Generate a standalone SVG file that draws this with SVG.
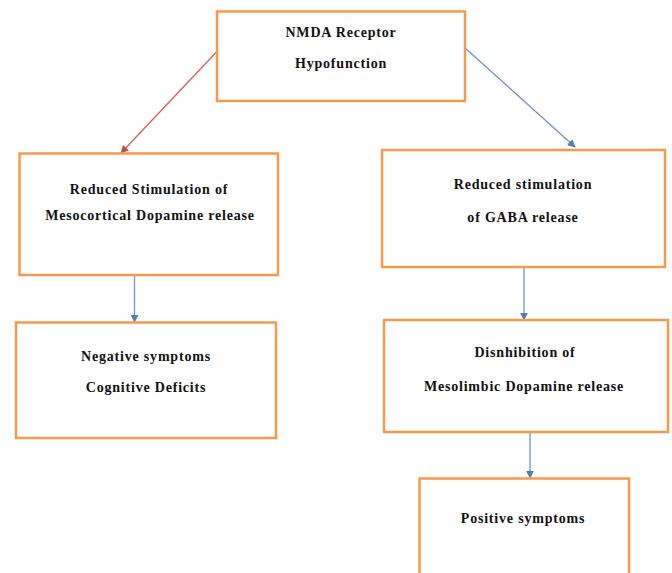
<svg xmlns="http://www.w3.org/2000/svg" width="672" height="573" viewBox="0 0 672 573">
<style>
.box{fill:#fff;stroke:#F79A4B;stroke-width:2.5}
.t{font-family:"Liberation Serif","Times New Roman",serif;font-weight:bold;font-size:14px;letter-spacing:0.8px;fill:#111;text-anchor:middle}
.red{stroke:#D0605E;stroke-width:1.3;fill:none}
.blue{stroke:#6A93CC;stroke-width:1.3;fill:none}
</style>
<defs>
<marker id="ar" viewBox="0 0 10 10" refX="9" refY="5" markerWidth="8" markerHeight="8" markerUnits="userSpaceOnUse" orient="auto"><path d="M0,0 L10,5 L0,10 z" fill="#C0504D"/></marker>
<marker id="ab" viewBox="0 0 10 10" refX="9" refY="5" markerWidth="8" markerHeight="8" markerUnits="userSpaceOnUse" orient="auto"><path d="M0,0 L10,5 L0,10 z" fill="#4F81BD"/></marker>
</defs>
<rect width="672" height="573" fill="#fff"/>
<g id="connectors">
<line class="red" x1="216.5" y1="52" x2="121" y2="153" marker-end="url(#ar)"/>
<line class="blue" x1="464" y1="47" x2="575" y2="147" marker-end="url(#ab)"/>
<line class="blue" x1="134.5" y1="275" x2="134.5" y2="322" marker-end="url(#ab)"/>
<line class="blue" x1="524" y1="267" x2="524" y2="320" marker-end="url(#ab)"/>
<line class="blue" x1="530" y1="432" x2="530" y2="478" marker-end="url(#ab)"/>
</g>
<g id="n1">
<rect class="box" x="217" y="11.5" width="248" height="89.5"/>
<text class="t" x="341" y="37">NMDA Receptor</text>
<text class="t" x="341" y="68">Hypofunction</text>
</g>
<g id="n2">
<rect class="box" x="19.5" y="153.5" width="258.5" height="121.5"/>
<text class="t" x="149" y="194">Reduced  Stimulation of</text>
<text class="t" x="150" y="220">Mesocortical Dopamine release</text>
</g>
<g id="n3">
<rect class="box" x="382" y="150" width="283" height="117"/>
<text class="t" x="523" y="189">Reduced stimulation</text>
<text class="t" x="523" y="222">of GABA release</text>
</g>
<g id="n4">
<rect class="box" x="16" y="322.5" width="260" height="115.5"/>
<text class="t" x="146" y="361">Negative symptoms</text>
<text class="t" x="146" y="392">Cognitive Deficits</text>
</g>
<g id="n5">
<rect class="box" x="384" y="320" width="284" height="112"/>
<text class="t" x="525" y="357">Disnhibition of</text>
<text class="t" x="524" y="391">Mesolimbic Dopamine release</text>
</g>
<g id="n6">
<rect class="box" x="419.5" y="478.5" width="209.5" height="110"/>
<text class="t" x="523" y="523">Positive symptoms</text>
</g>
</svg>
